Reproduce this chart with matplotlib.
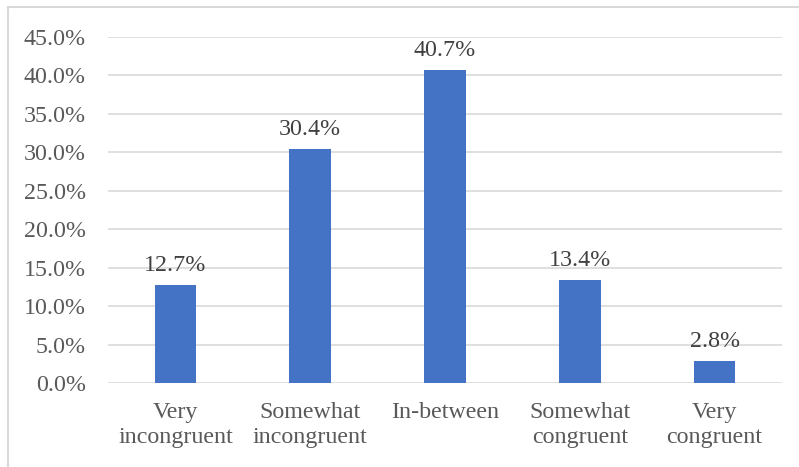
import matplotlib.pyplot as plt
from matplotlib.patches import Rectangle
from matplotlib.ticker import PercentFormatter
import numpy as np

# ================= DATA =================
categories = ["Very\nincongruent", "Somewhat\nincongruent", "In-between",
              "Somewhat\ncongruent", "Very\ncongruent"]
shares = [12.7, 30.4, 40.7, 13.4, 2.8]
y_ticks = [0, 5, 10, 15, 20, 25, 30, 35, 40, 45]
# ========================================

BAR_COLOR = "#4472C4"
TEXT_COLOR = "#595959"
GRID_COLOR = "#D9D9D9"
FS = 17.3

plt.rcParams['font.family'] = ['Liberation Serif', 'DejaVu Serif']

fig = plt.figure(figsize=(7.99, 4.67), dpi=100)
ax = fig.add_axes([108 / 799, 84 / 467, (782 - 108) / 799, (383 - 37) / 467])

x = np.arange(len(categories))
bars = ax.bar(x, shares, width=0.31, color=BAR_COLOR, zorder=3)

for b, v in zip(bars, shares):
    ax.annotate(f"{v:.1f}%", (b.get_x() + b.get_width() / 2, v),
                xytext=(0, 6.5), textcoords='offset points',
                ha='center', va='bottom', fontsize=FS, color="#404040")

ax.set_xlim(-0.5, len(categories) - 0.5)
ax.set_ylim(0, 45)
ax.set_yticks(y_ticks)
ax.yaxis.set_major_formatter(PercentFormatter(decimals=1))
ax.set_xticks(x)
ax.set_xticklabels(categories, linespacing=1.2)

ax.grid(axis='y', color=GRID_COLOR, linewidth=1.2, zorder=0)
for s in ax.spines.values():
    s.set_visible(False)
ax.tick_params(axis='both', length=0, labelsize=FS, labelcolor=TEXT_COLOR)
ax.tick_params(axis='y', pad=16)
ax.tick_params(axis='x', pad=14)

# light chart border (left and top edges visible)
fig.add_artist(Rectangle((8 / 799, -0.1), 1.2, (467 - 7) / 467 + 0.1,
                         transform=fig.transFigure, fill=False,
                         edgecolor=GRID_COLOR, linewidth=1.5))

fig.savefig("out.png", dpi=100)
